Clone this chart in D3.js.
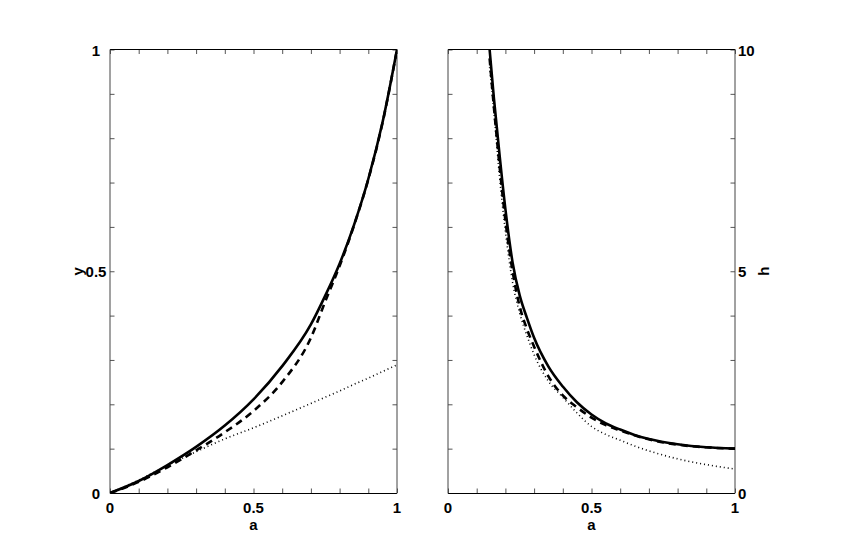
<!DOCTYPE html>
<html><head><meta charset="utf-8">
<script src="https://cdn.jsdelivr.net/npm/d3@7"></script>
<style>body{margin:0;background:#fff}svg{display:block}text{font-family:"Liberation Sans",Arial,sans-serif;font-weight:bold;font-size:15px;fill:#000}</style>
</head><body>
<svg id="c" width="845" height="555"></svg>
<script>
// ---- data ----
const aLeft   = [0, 0.1, 0.2, 0.3, 0.4, 0.5, 0.6, 0.7, 0.75, 0.8, 0.85, 0.9, 0.95, 1.0];
const ySolid  = [0, 0.027, 0.063, 0.104, 0.152, 0.211, 0.286, 0.38, 0.445, 0.517, 0.604, 0.708, 0.837, 1.0];
const yDashed = [0, 0.025, 0.058, 0.096, 0.137, 0.185, 0.25, 0.35, 0.432, 0.512, 0.603, 0.707, 0.836, 1.0];
const yDotted = [0, 0.029, 0.062, 0.093, 0.122, 0.147, 0.174, 0.202, 0.216, 0.23, 0.245, 0.259, 0.274, 0.289];

const aRight  = [0.145, 0.16, 0.18, 0.2, 0.225, 0.25, 0.275, 0.3, 0.35, 0.4, 0.45, 0.5, 0.55, 0.6, 0.65, 0.7, 0.8, 0.9, 1.0];
const hSolid  = [10.0, 8.9, 7.6, 6.4, 5.2, 4.45, 3.95, 3.5, 2.85, 2.4, 2.04, 1.77, 1.57, 1.43, 1.31, 1.22, 1.1, 1.03, 1.0];
const hDashed = [9.8, 8.7, 7.35, 6.15, 5.0, 4.2, 3.7, 3.3, 2.63, 2.2, 1.93, 1.70, 1.53, 1.41, 1.30, 1.21, 1.09, 1.03, 1.0];
const hDotted = [9.6, 8.6, 7.1, 5.9, 4.75, 4.05, 3.55, 3.12, 2.52, 2.16, 1.8, 1.50, 1.32, 1.19, 1.06, 0.95, 0.77, 0.64, 0.54];

const xTickLabels = [0, 0.5, 1];
const yLeftTickLabels = [0, 0.5, 1];
const yRightTickLabels = [0, 5, 10];

// ---- layout ----
const svg = d3.select("#c");
const yTop = 49.5, yBot = 493;
const panels = [
  {x0:110, x1:397, dom:[0,1], minor:d3.range(0,1.0001,0.1), labels:yLeftTickLabels, side:"left", title:"y",
   series:[{a:aLeft,v:ySolid,s:"solid"},{a:aLeft,v:yDashed,s:"dashed"},{a:aLeft,v:yDotted,s:"dotted"}]},
  {x0:448, x1:735, dom:[0,10], minor:d3.range(0,10.001,1), labels:yRightTickLabels, side:"right", title:"h",
   series:[{a:aRight,v:hDotted,s:"dotted"},{a:aRight,v:hDashed,s:"dashed"},{a:aRight,v:hSolid,s:"solid"}]}
];
const styles = {
  solid:{w:2.6, d:null},
  dashed:{w:2.6, d:"7,5"},
  dotted:{w:1.6, d:"1,3"}
};

panels.forEach((p,i)=>{
  const x = d3.scaleLinear().domain([0,1]).range([p.x0,p.x1]);
  const y = d3.scaleLinear().domain(p.dom).range([yBot,yTop]);
  const g = svg.append("g");
  const cid = "clip"+i;
  svg.append("clipPath").attr("id",cid).append("rect")
    .attr("x",p.x0).attr("y",yTop).attr("width",p.x1-p.x0).attr("height",yBot-yTop);

  const xt = d3.range(0,1.0001,0.1);
  const tl = 4.5;
  const style = s=>{s.select(".domain").remove();s.selectAll("line").attr("stroke","#555");};
  g.append("g").attr("transform",`translate(0,${yBot})`)
    .call(d3.axisBottom(x).tickValues(xt).tickSize(-tl).tickFormat("")).call(style);
  g.append("g").attr("transform",`translate(0,${yTop})`)
    .call(d3.axisTop(x).tickValues(xt).tickSize(-tl).tickFormat("")).call(style);
  g.append("g").attr("transform",`translate(${p.x0},0)`)
    .call(d3.axisLeft(y).tickValues(p.minor).tickSize(-tl).tickFormat("")).call(style);
  g.append("g").attr("transform",`translate(${p.x1},0)`)
    .call(d3.axisRight(y).tickValues(p.minor).tickSize(-tl).tickFormat("")).call(style);

  // frame
  g.append("line").attr("x1",p.x0).attr("x2",p.x1).attr("y1",yTop).attr("y2",yTop).attr("stroke","#000");
  g.append("line").attr("x1",p.x0).attr("x2",p.x1).attr("y1",yBot+0.5).attr("y2",yBot+0.5).attr("stroke","#000");
  g.append("line").attr("x1",p.x0).attr("x2",p.x0).attr("y1",yTop).attr("y2",yBot+0.5).attr("stroke","#444");
  g.append("line").attr("x1",p.x1).attr("x2",p.x1).attr("y1",yTop).attr("y2",yBot+0.5).attr("stroke","#444");

  // tick labels
  xTickLabels.forEach(v=>{
    g.append("text").attr("x",x(v)).attr("y",513).attr("text-anchor","middle").text(v);
  });
  p.labels.forEach(v=>{
    if(p.side==="left"){
      g.append("text").attr("x",p.x0-14).attr("y",y(v)+6).attr("text-anchor","middle").text(v);
    } else {
      g.append("text").attr("x",p.x1+3).attr("y",y(v)+6).attr("text-anchor","start").text(v);
    }
  });
  // axis titles
  g.append("text").attr("x",(p.x0+p.x1)/2).attr("y",530).attr("text-anchor","middle").text("a");
  const ty = (yTop+yBot)/2;
  const tx = p.side==="left" ? p.x0-27 : p.x1+34;
  g.append("text").attr("transform",`translate(${tx},${ty}) rotate(-90)`).attr("text-anchor","middle").text(p.title);

  // curves
  const cg = g.append("g").attr("clip-path",`url(#${cid})`);
  p.series.forEach(s=>{
    const pts = s.a.map((a,k)=>[a,s.v[k]]);
    const line = d3.line().x(d=>x(d[0])).y(d=>y(d[1])).curve(d3.curveMonotoneX);
    const st = styles[s.s];
    cg.append("path").attr("d",line(pts)).attr("fill","none").attr("stroke","#000")
      .attr("stroke-width",st.w).attr("stroke-dasharray",st.d);
  });
});
</script>
</body></html>
